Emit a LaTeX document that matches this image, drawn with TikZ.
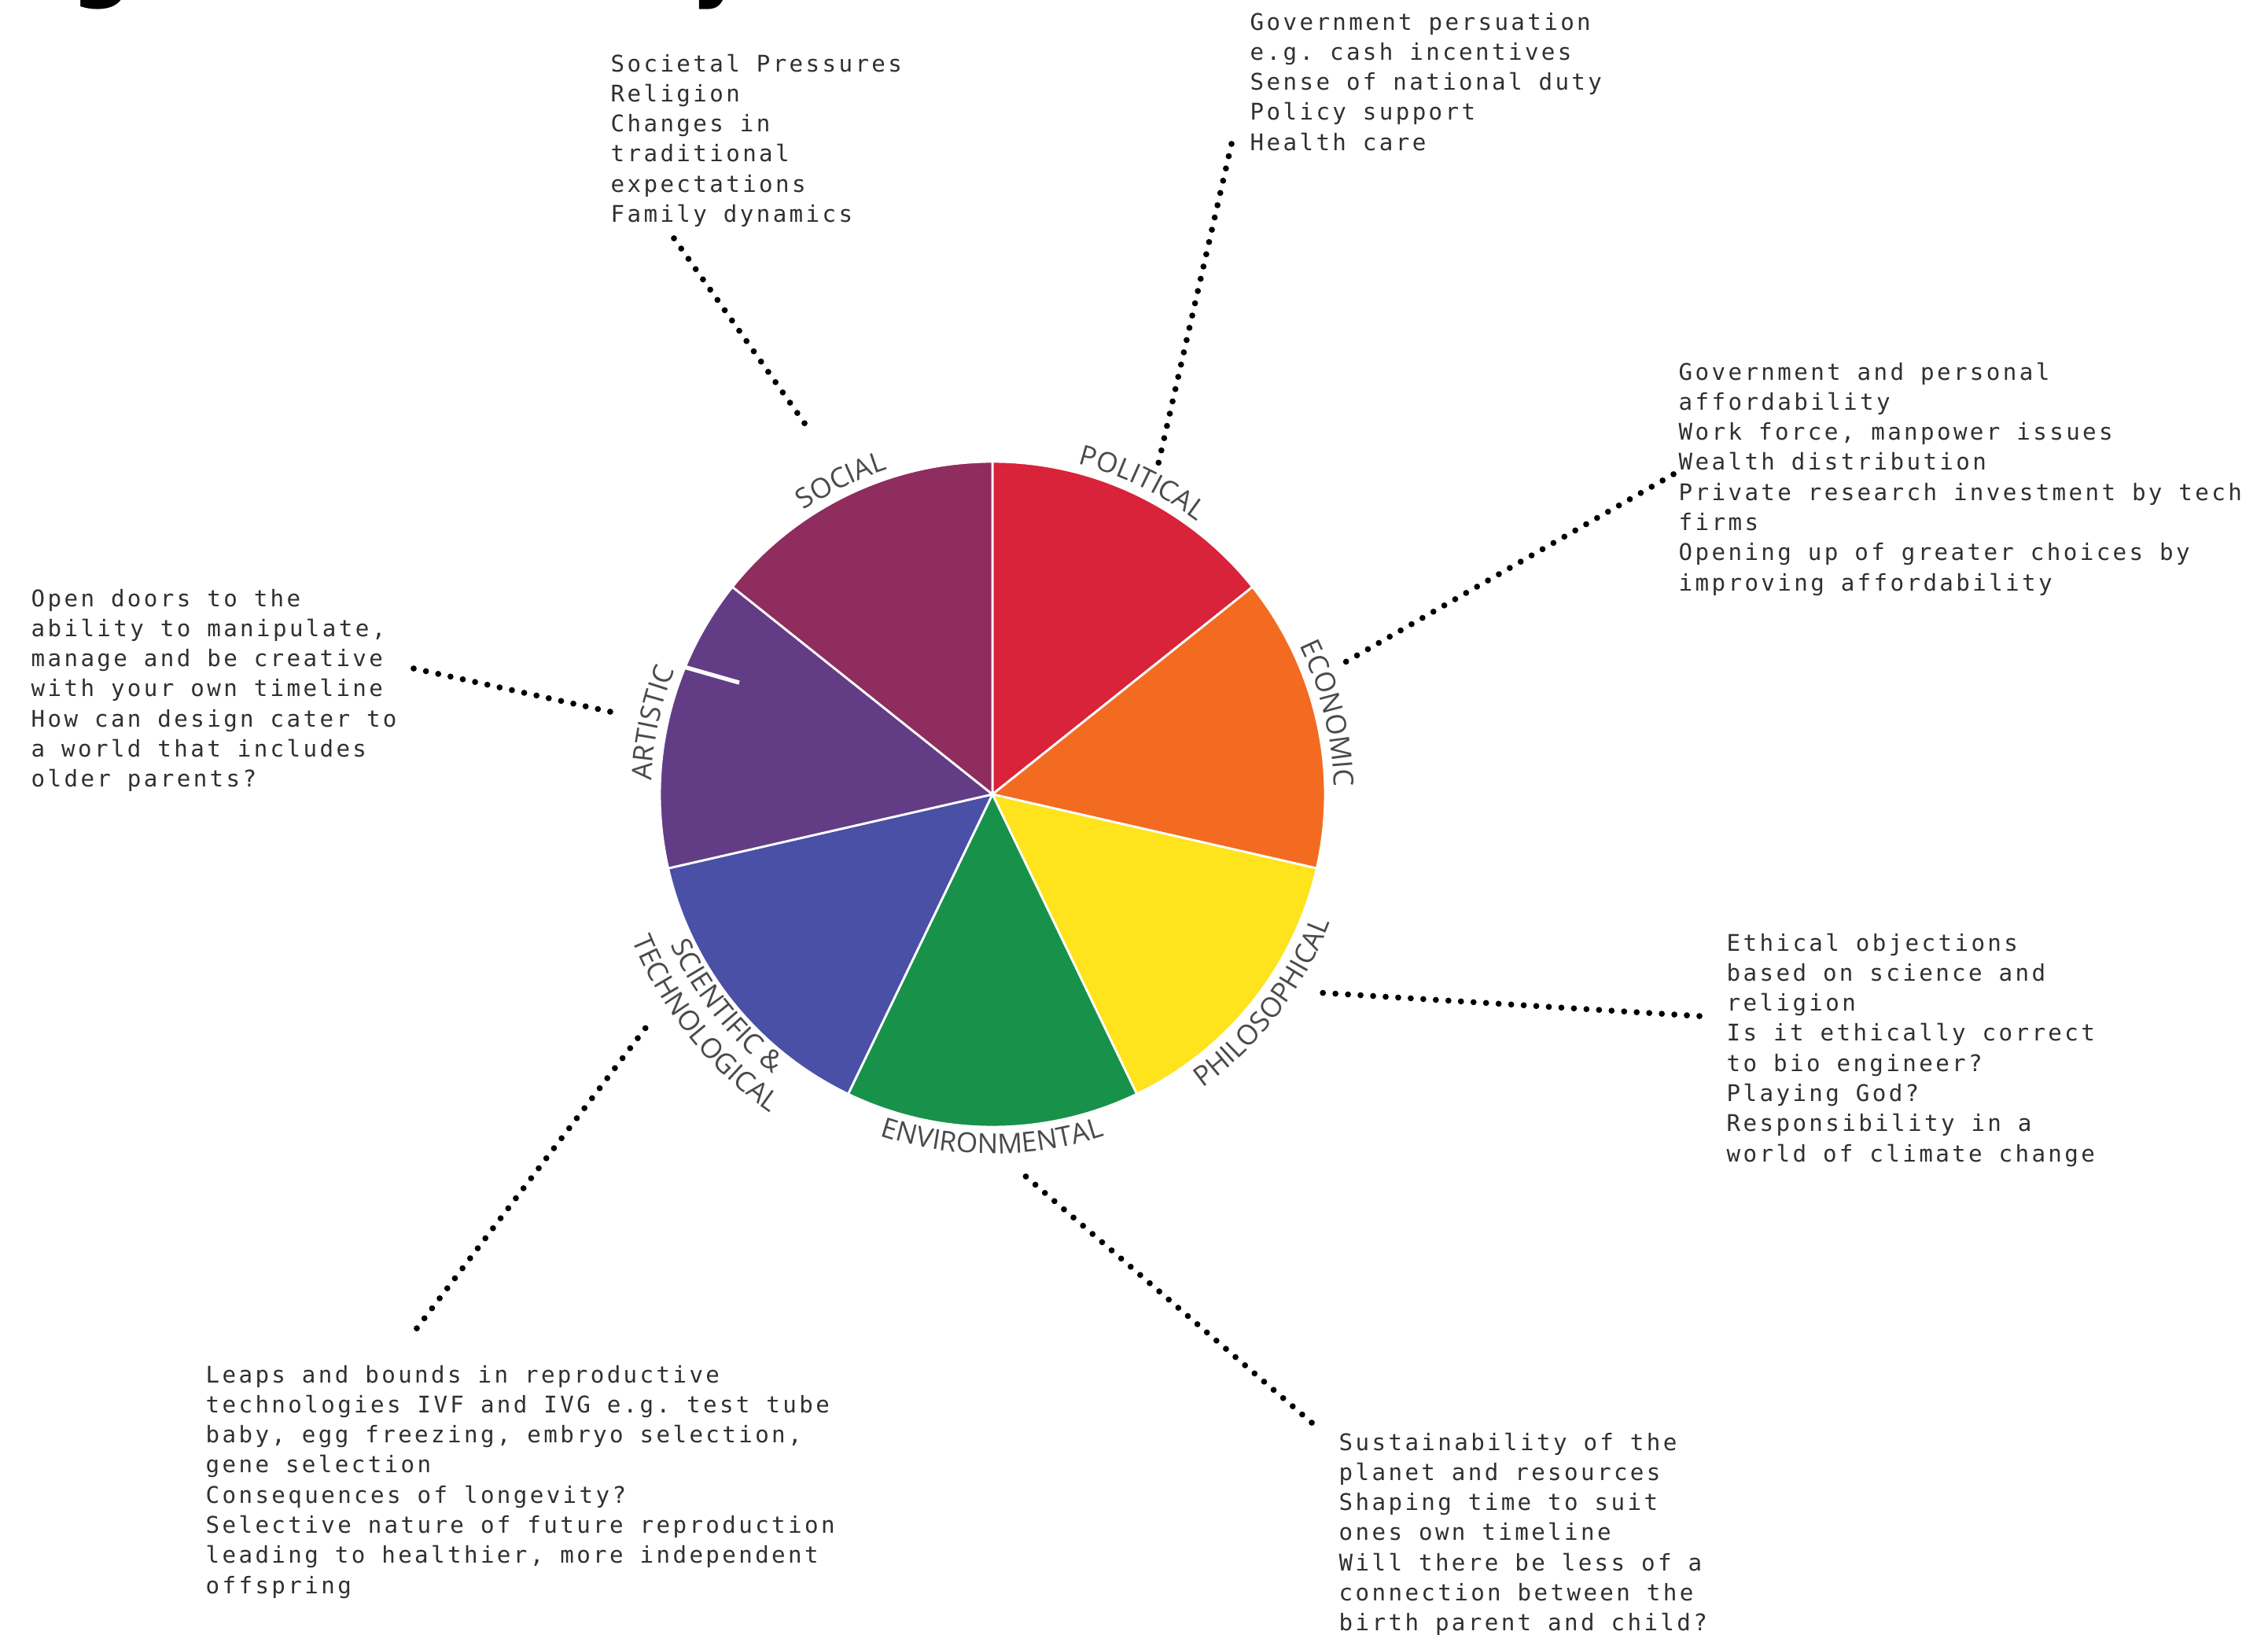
\documentclass[tikz,border=0pt]{standalone}
\usepackage{fontspec}
\newfontfamily\monof[LetterSpace=11.6]{DejaVu Sans Mono}
\newfontfamily\lblf{Open Sans}
\newfontfamily\ttlf{DejaVu Sans}
\definecolor{csoc}{HTML}{8F2D5E}
\definecolor{cpol}{HTML}{D8233A}
\definecolor{ceco}{HTML}{F36B21}
\definecolor{cphi}{HTML}{FEE31D}
\definecolor{cenv}{HTML}{18924A}
\definecolor{csci}{HTML}{4950A6}
\definecolor{cart}{HTML}{623D86}
\definecolor{lblgray}{HTML}{4A4A4A}
\definecolor{txtc}{HTML}{303030}
\newcommand\mline[1]{\hbox{#1}}
\newcommand\lblsize{\lblf\fontsize{10}{12}\selectfont}
\newcommand\monoset{\monof\fontsize{8.3}{10.9}\selectfont\spaceskip=5.96pt\relax\xspaceskip=5.96pt\relax}
\tikzset{
  blocktext/.style={anchor=base west, inner sep=0pt, text=txtc, font=\monoset},
  dotline/.style={line width=2.2pt, line cap=round, dash pattern=on 0pt off 4.55pt},
  slicesep/.style={draw=white, line width=0.8pt},
  lblletter/.style={anchor=base, inner sep=0pt, text=lblgray, font=\lblsize},
  titletext/.style={anchor=base west, inner sep=0pt,
    font=\ttlf\bfseries\fontsize{31}{31}\selectfont}
}
\begin{document}
\begin{tikzpicture}
\useasboundingbox (0,0) rectangle (28.84,-20.78);
\fill[white] (0,0) rectangle (28.84,-20.78);

% cut-off title fragments
\begin{scope}
\clip (0,0) rectangle (28.84,-20.78);
\node[titletext] (tg) at (0.90,0.12) {g};
\node[titletext] (ty) at (8.78,0.12) {y};
\end{scope}

% pie
\coordinate (C) at (12.62,-10.10);
\foreach \a/\b/\c in {90/38.571/cpol, 38.571/-12.857/ceco, -12.857/-64.286/cphi,
  -64.286/-115.714/cenv, -115.714/-167.143/csci, -167.143/-218.571/cart,
  -218.571/-270/csoc}
  \filldraw[fill=\c, slicesep] (C) -- ([shift={(\a:4.23cm)}]C) arc[start angle=\a, end angle=\b, radius=4.23cm] -- cycle;

\coordinate (wl1) at (8.70,-8.48);
\coordinate (wl2) at (9.40,-8.68);
\draw[white, line width=1.5pt] (wl1) -- (wl2);

% curved labels, clockwise (letters outward)
\foreach \ch/\ang [count=\i] in {S/122.33, O/119.25, C/115.97, I/113.86, A/111.75, L/109.05}
  \node[lblletter, rotate=\ang-90] (lsoc\i) at ([shift={(\ang:4.34cm)}]C) {\ch};
\foreach \ch/\ang [count=\i] in {P/74.09, O/70.88, L/67.84, I/65.96, T/64.01, I/62.06, C/59.95, A/57.02, L/54.32}
  \node[lblletter, rotate=\ang-90] (lpol\i) at ([shift={(\ang:4.34cm)}]C) {\ch};
\foreach \ch/\ang [count=\i] in {E/24.6, C/21.85, O/18.58, N/15.01, O/11.45, M/7.54, I/4.8, C/2.69}
  \node[lblletter, rotate=\ang-90] (leco\i) at ([shift={(\ang:4.34cm)}]C) {\ch};
\foreach \ch/\ang [count=\i] in {A/176.2, R/173.3, T/170.57, I/168.62, S/166.7, T/164.13, I/162.18, C/160.07}
  \node[lblletter, rotate=\ang-90] (lart\i) at ([shift={(\ang:4.34cm)}]C) {\ch};
% curved labels, counter-clockwise (letters inward)
\foreach \ch/\ang [count=\i] in {P/-53.09, H/-50.15, I/-47.92, L/-46.14, O/-43.26, S/-40.34, O/-37.43, P/-34.39, H/-31.44, I/-29.21, C/-27.22, A/-24.44, L/-21.89}
  \node[lblletter, rotate=\ang+90] (lphi\i) at ([shift={(\ang:4.59cm)}]C) {\ch};
\foreach \ch/\ang [count=\i] in {E/-107.04, N/-104.15, V/-101.15, I/-99.21, R/-97.23, O/-94.15, N/-90.76, M/-87.11, E/-83.89, N/-81.00, T/-78.10, A/-75.47, L/-72.90}
  \node[lblletter, rotate=\ang+90] (lenv\i) at ([shift={(\ang:4.57cm)}]C) {\ch};
\foreach \ch/\ang [count=\i] in {S/-153.74, C/-151.11, I/-149.08, E/-147.22, N/-144.30, T/-141.36, I/-139.49, F/-137.72, I/-135.95, C/-133.92, \&/-129.63}
  \node[lblletter, rotate=\ang+90] (lsci\i) at ([shift={(\ang:4.52cm)}]C) {\ch};
\foreach \ch/\ang [count=\i] in {T/-156.87, E/-154.59, C/-152.18, H/-149.39, N/-146.34, O/-143.21, L/-140.53, O/-137.86, G/-134.78, I/-132.73, C/-130.88, A/-128.30, L/-125.93}
  \node[lblletter, rotate=\ang+90] (ltec\i) at ([shift={(\ang:4.94cm)}]C) {\ch};

% text blocks
\node[blocktext] (soc) at (7.76,-0.91) {\vtop{\mline{Societal Pressures}\mline{Religion}\mline{Changes in}\mline{traditional}\mline{expectations}\mline{Family dynamics}}};
\node[blocktext] (pol) at (15.89,-0.38) {\vtop{\mline{Government persuation}\mline{e.g. cash incentives}\mline{Sense of national duty}\mline{Policy support}\mline{Health care}}};
\node[blocktext] (eco) at (21.34,-4.83) {\vtop{\mline{Government and personal}\mline{affordability}\mline{Work force, manpower issues}\mline{Wealth distribution}\mline{Private research investment by tech}\mline{firms}\mline{Opening up of greater choices by}\mline{improving affordability}}};
\node[blocktext] (art) at (0.39,-7.71) {\vtop{\mline{Open doors to the}\mline{ability to manipulate,}\mline{manage and be creative}\mline{with your own timeline}\mline{How can design cater to}\mline{a world that includes}\mline{older parents?}}};
\node[blocktext] (phi) at (21.95,-12.09) {\vtop{\mline{Ethical objections}\mline{based on science and}\mline{religion}\mline{Is it ethically correct}\mline{to bio engineer?}\mline{Playing God?}\mline{Responsibility in a}\mline{world of climate change}}};
\node[blocktext] (sci) at (2.61,-17.58) {\vtop{\mline{Leaps and bounds in reproductive}\mline{technologies IVF and IVG e.g. test tube}\mline{baby, egg freezing, embryo selection,}\mline{gene selection}\mline{Consequences of longevity?}\mline{Selective nature of future reproduction}\mline{leading to healthier, more independent}\mline{offspring}}};
\node[blocktext] (env) at (17.02,-18.44) {\vtop{\mline{Sustainability of the}\mline{planet and resources}\mline{Shaping time to suit}\mline{ones own timeline}\mline{Will there be less of a}\mline{connection between the}\mline{birth parent and child?}}};

% dotted connectors
\coordinate (socA) at (8.57,-3.03);   \coordinate (socB) at (10.30,-5.48);
\coordinate (polA) at (15.66,-1.83);  \coordinate (polB) at (14.71,-5.98);
\coordinate (ecoA) at (21.28,-6.03);  \coordinate (ecoB) at (17.07,-8.44);
\coordinate (artA) at (5.26,-8.50);   \coordinate (artB) at (7.76,-9.05);
\coordinate (phiA) at (21.61,-12.92); \coordinate (phiB) at (16.74,-12.62);
\coordinate (envA) at (16.68,-18.09); \coordinate (envB) at (13.01,-14.93);
\coordinate (sciA) at (5.30,-16.89);  \coordinate (sciB) at (8.24,-13.03);
\draw[dotline] (socA) -- (socB);
\draw[dotline] (polA) -- (polB);
\draw[dotline] (ecoA) -- (ecoB);
\draw[dotline] (artA) -- (artB);
\draw[dotline] (phiA) -- (phiB);
\draw[dotline] (envA) -- (envB);
\draw[dotline] (sciA) -- (sciB);
\end{tikzpicture}
\end{document}
